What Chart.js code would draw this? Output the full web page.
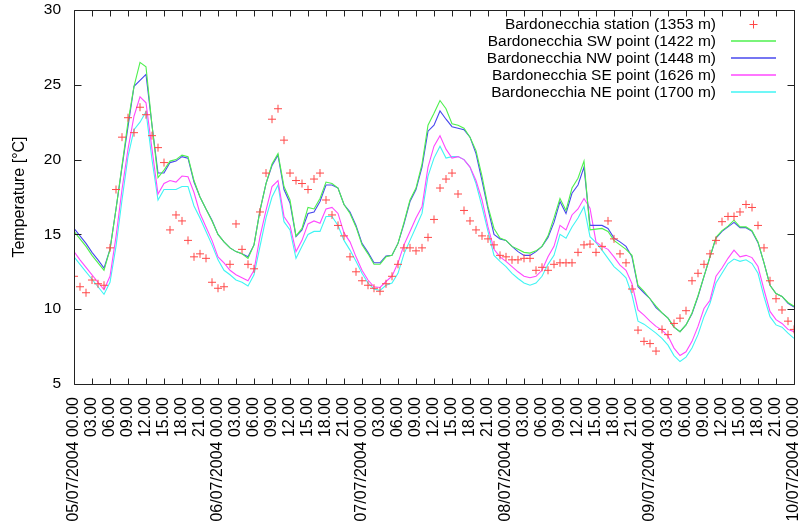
<!DOCTYPE html>
<html lang="en">
<head>
  <meta charset="UTF-8">
  <title>Bardonecchia temperatures</title>
  <script src="https://cdn.jsdelivr.net/npm/chart.js"></script>
  <style>
    html, body { margin: 0; padding: 0; background: #fff; }
  </style>
</head>
<body>
  <canvas id="tempChart" width="807" height="527"></canvas>

  <script>
    // x axis: hourly values from 05/07/2004 00.00 to 10/07/2004 00.00
    const days = ['05/07/2004', '06/07/2004', '07/07/2004', '08/07/2004', '09/07/2004', '10/07/2004'];
    const hourLabels = ['00.00', '03.00', '06.00', '09.00', '12.00', '15.00', '18.00', '21.00'];

    const station = [
      12.2, 11.5, 11.1, 11.95, 11.7, 11.6, 14.1, 18.0, 21.5, 22.8, 21.8, 23.5, 23.0, 21.6, 20.8, 19.8, 15.3, 16.3, 15.9, 14.6, 13.5, 13.7, 13.4, 11.8,
      11.4, 11.5, 13.0, 15.7, 14.0, 13.0, 12.7, 16.5, 19.1, 22.7, 23.4, 21.3, 19.1, 18.6, 18.4, 18.0, 18.7, 19.1, 17.3, 16.3, 15.6, 14.9, 13.5, 12.5,
      11.9, 11.6, 11.4, 11.2, 11.7, 12.2, 13.0, 14.1, 14.1, 13.9, 14.1, 14.8, 16.0, 18.1, 18.7, 19.1, 17.7, 16.6, 15.9, 15.3, 14.9, 14.7, 14.3, 13.6,
      13.5, 13.3, 13.3, 13.4, 13.4, 12.6, 12.8, 12.6, 13.0, 13.1, 13.1, 13.1, 13.8, 14.3, 14.35, 13.8, 14.2, 15.9, 14.7, 13.7, 13.1, 11.35, 8.6, 7.85,
      7.7, 7.2, 8.65, 8.3, 9.05, 9.4, 9.9, 11.9, 12.4, 13.0, 13.7, 14.6, 15.85, 16.2, 16.2, 16.5, 17.0, 16.8, 15.6, 14.1, 11.9, 10.7, 9.95, 9.2, 8.65
    ];
    const pointSW = [
      15.2, 14.7, 14.2, 13.6, 13.1, 12.6, 14.0, 16.7, 19.6, 22.5, 24.9, 26.5, 26.2, 22.3, 18.8, 19.3, 19.9, 20.0, 20.3, 20.2, 18.6, 17.5, 16.7, 15.9,
      15.0, 14.5, 14.1, 13.85, 13.7, 13.4, 14.3, 16.6, 18.4, 19.7, 20.4, 18.2, 17.3, 14.9, 15.4, 16.8, 16.7, 17.4, 18.5, 18.4, 18.1, 17.0, 16.4, 15.5,
      14.3, 13.7, 13.0, 13.0, 13.5, 13.6, 14.4, 15.8, 17.3, 18.1, 19.7, 22.3, 23.1, 23.95, 23.4, 22.4, 22.3, 22.1, 21.5, 20.6, 18.9, 16.85, 15.4, 14.75,
      14.6, 14.2, 14.0, 13.8, 13.75, 13.9, 14.2, 14.9, 16.1, 17.4, 16.6, 18.1, 18.75, 19.9, 15.3, 15.35, 15.4, 15.2, 14.6, 14.3, 14.0, 13.6, 11.6, 11.2,
      10.7, 10.2, 9.75, 9.4, 8.8, 8.5, 8.95, 9.75, 10.9, 12.2, 13.5, 14.8, 15.25, 15.55, 15.95, 15.5, 15.5, 15.25, 14.5, 13.1, 11.6, 11.05, 10.85, 10.45, 10.2
    ];
    const pointNW = [
      15.4, 14.9, 14.4, 13.8, 13.3, 12.75, 14.0, 16.7, 19.5, 22.2, 24.9, 25.3, 25.7, 22.3, 19.1, 19.1, 19.8, 19.9, 20.2, 20.1, 18.5, 17.5, 16.7, 15.95,
      15.0, 14.5, 14.1, 13.85, 13.7, 13.5, 14.3, 16.6, 18.4, 19.6, 20.3, 18.0, 17.1, 14.85, 15.3, 16.4, 16.5, 17.2, 18.3, 18.3, 18.1, 17.0, 16.5, 15.6,
      14.4, 13.8, 13.1, 13.1, 13.55, 13.6, 14.4, 15.7, 17.2, 18.0, 19.5, 21.9, 22.3, 23.25, 22.7, 22.2, 22.1, 22.0, 21.5, 20.4, 18.6, 16.7, 15.0, 14.7,
      14.6, 14.2, 13.85, 13.6, 13.6, 13.85, 14.2, 14.8, 15.8, 17.2, 16.4, 17.75, 18.3, 19.5, 15.6, 15.6, 15.6, 15.4, 14.75, 14.5, 14.2, 13.5, 11.5, 11.1,
      10.7, 10.1, 9.75, 9.4, 8.8, 8.5, 8.95, 9.7, 10.85, 12.2, 13.5, 14.75, 15.2, 15.5, 15.8, 15.45, 15.45, 15.2, 14.45, 13.1, 11.6, 11.05, 10.85, 10.4, 10.15
    ];
    const pointSE = [
      13.85, 13.3, 12.8, 12.3, 11.8, 11.3, 12.2, 14.85, 18.0, 20.7, 22.9, 24.2, 23.8, 20.7, 17.7, 18.4, 18.6, 18.5, 18.9, 18.85, 17.8, 16.4, 15.5, 14.6,
      13.5, 13.1, 12.6, 12.3, 12.1, 11.9, 12.6, 14.85, 16.6, 18.2, 18.6, 16.2, 15.6, 13.85, 14.6, 15.7, 15.9, 15.75, 16.7, 16.8, 16.4, 15.1, 14.5, 13.5,
      12.6, 11.95, 11.5, 11.45, 11.85, 12.2, 13.1, 14.3, 15.2, 16.1, 16.85, 19.5, 20.9, 21.6, 20.7, 20.1, 20.2, 20.0, 19.5, 18.6, 17.3, 15.5, 14.0, 13.5,
      13.2, 12.85, 12.5, 12.2, 12.1, 12.2, 12.6, 13.5, 14.2, 15.6, 15.3, 16.3, 16.7, 17.4, 16.75, 14.5, 14.2, 14.0, 13.5, 12.95, 12.6, 11.7, 9.95, 9.6,
      9.2, 8.85, 8.6, 8.2, 7.4, 6.9, 7.15, 7.85, 8.85, 10.05, 10.6, 12.2, 12.75, 13.4, 13.95, 13.5, 13.6, 13.45, 12.85, 11.3, 9.85, 9.3, 9.05, 8.65, 8.5
    ];
    const pointNE = [
      13.5, 13.0, 12.5, 12.0, 11.5, 11.0, 11.8, 14.2, 17.3, 20.2, 22.0, 22.5, 23.2, 20.0, 17.3, 18.0, 18.0, 18.0, 18.2, 18.2, 16.9, 16.1, 15.2, 14.3,
      13.3, 12.6, 12.3, 11.95, 11.8, 11.55, 12.3, 14.2, 16.1, 17.5, 18.3, 15.85, 15.3, 13.4, 14.2, 15.0, 15.2, 15.2, 16.2, 16.2, 15.6, 14.6, 13.95, 13.2,
      12.4, 11.75, 11.35, 11.25, 11.6, 11.75, 12.4, 13.7, 14.6, 15.5, 16.4, 18.9, 20.1, 20.9, 20.1, 20.2, 20.2, 20.0, 19.5, 18.4, 16.85, 15.2, 13.6, 13.2,
      12.85, 12.4, 12.05, 11.75, 11.6, 11.75, 12.2, 13.0, 13.6, 15.0, 14.75, 15.5, 16.1, 16.85, 14.85, 14.45, 13.95, 13.4, 12.85, 12.5, 12.1, 10.95, 9.2, 9.0,
      8.7, 8.4, 8.05, 7.6, 6.9, 6.5, 6.8, 7.4, 8.3, 9.5, 10.4, 11.75, 12.4, 13.05, 13.35, 13.2, 13.3, 13.05, 12.4, 10.85, 9.5, 8.95, 8.8, 8.4, 8.05
    ];

    // one label every 3 hours, the full date at midnight
    const tickLabels = [];
    days.forEach((d, i) => {
      hourLabels.forEach(h => {
        if (i < days.length - 1 || h === '00.00') {
          tickLabels.push(h === '00.00' ? d + ' 00.00' : h);
        }
      });
    });

    const FONT = '"Liberation Sans", Arial, Helvetica, sans-serif';
    const toPoints = arr => arr.map((v, i) => ({ x: i, y: v }));

    function lineSet(label, values, color) {
      return {
        label: label,
        data: toPoints(values),
        borderColor: color,
        borderWidth: 1.1,
        pointRadius: 0,
        tension: 0,
        fill: false
      };
    }

    // gnuplot-like border with inward tics on all four sides, plus the key
    const gnuFrame = {
      id: 'gnuFrame',
      afterDatasetsDraw(chart) {
        const ctx = chart.ctx;
        const a = chart.chartArea;
        const xs = chart.scales.x;
        const ys = chart.scales.y;
        const L = Math.round(a.left) + 0.5, R = Math.round(a.right) + 0.5;
        const T = Math.round(a.top) + 0.5, B = Math.round(a.bottom) + 0.5;
        ctx.save();
        ctx.strokeStyle = '#222';
        ctx.lineWidth = 1;
        ctx.beginPath();
        ctx.rect(L, T, R - L, B - T);
        for (let v = 0; v <= 120; v += 3) {
          const px = Math.round(xs.getPixelForValue(v)) + 0.5;
          ctx.moveTo(px, B); ctx.lineTo(px, B - 6);
          ctx.moveTo(px, T); ctx.lineTo(px, T + 6);
        }
        for (let v = 5; v <= 30; v += 5) {
          const py = Math.round(ys.getPixelForValue(v)) + 0.5;
          ctx.moveTo(L, py); ctx.lineTo(L + 7, py);
          ctx.moveTo(R, py); ctx.lineTo(R - 7, py);
        }
        ctx.stroke();

        // key
        ctx.font = '15.5px ' + FONT;
        ctx.textAlign = 'right';
        ctx.textBaseline = 'middle';
        chart.data.datasets.forEach((ds, i) => {
          const y = Math.round(a.top + 14 + i * 17);
          ctx.fillStyle = '#000';
          ctx.fillText(ds.label, a.right - 78, y + 1);
          ctx.strokeStyle = ds.borderColor;
          ctx.lineWidth = 1.5;
          ctx.beginPath();
          if (ds.showLine === false) {
            const cx = Math.round(a.right - 41) + 0.5;
            ctx.lineWidth = 1;
            ctx.moveTo(cx - 4, y + 0.5); ctx.lineTo(cx + 4, y + 0.5);
            ctx.moveTo(cx, y - 3.5); ctx.lineTo(cx, y + 4.5);
          } else {
            ctx.moveTo(a.right - 63, y);
            ctx.lineTo(a.right - 18, y);
          }
          ctx.stroke();
        });
        ctx.restore();
      }
    };

    const chart = new Chart(document.getElementById('tempChart'), {
      type: 'line',
      data: {
        datasets: [
          {
            label: 'Bardonecchia station (1353 m)',
            data: toPoints(station),
            showLine: false,
            pointStyle: 'cross',
            pointRadius: 4,
            pointBorderWidth: 1,
            borderColor: '#ff4848',
            pointBorderColor: '#ff4848'
          },
          lineSet('Bardonecchia SW point (1422 m)', pointSW, '#4ef04e'),
          lineSet('Bardonecchia NW point (1448 m)', pointNW, '#4848ee'),
          lineSet('Bardonecchia SE point (1626 m)', pointSE, '#ff48ff'),
          lineSet('Bardonecchia NE point (1700 m)', pointNE, '#40f4f4')
        ]
      },
      options: {
        responsive: false,
        animation: false,
        layout: { padding: { top: 10, right: 13, left: 0, bottom: 0 } },
        plugins: {
          legend: { display: false },
          tooltip: { enabled: false }
        },
        scales: {
          x: {
            type: 'linear',
            min: 0,
            max: 120,
            grid: { display: false },
            border: { display: false },
            ticks: {
              stepSize: 3,
              autoSkip: false,
              minRotation: 90,
              maxRotation: 90,
              padding: 5,
              color: '#000',
              font: { family: FONT, size: 16 },
              callback: v => tickLabels[Math.round(v / 3)]
            },
            afterFit: s => { s.height = 143; s.paddingLeft = 0; s.paddingRight = 0; }
          },
          y: {
            min: 5,
            max: 30,
            grid: { display: false },
            border: { display: false },
            ticks: {
              stepSize: 5,
              padding: 5,
              color: '#000',
              font: { family: FONT, size: 15.5 }
            },
            title: {
              display: true,
              text: 'Temperature [°C]',
              color: '#000',
              font: { family: FONT, size: 16 },
              padding: { top: 10, bottom: 0 }
            },
            afterFit: s => { s.width = 74; s.paddingTop = 0; s.paddingBottom = 0; }
          }
        }
      },
      plugins: [gnuFrame]
    });
  </script>
</body>
</html>
